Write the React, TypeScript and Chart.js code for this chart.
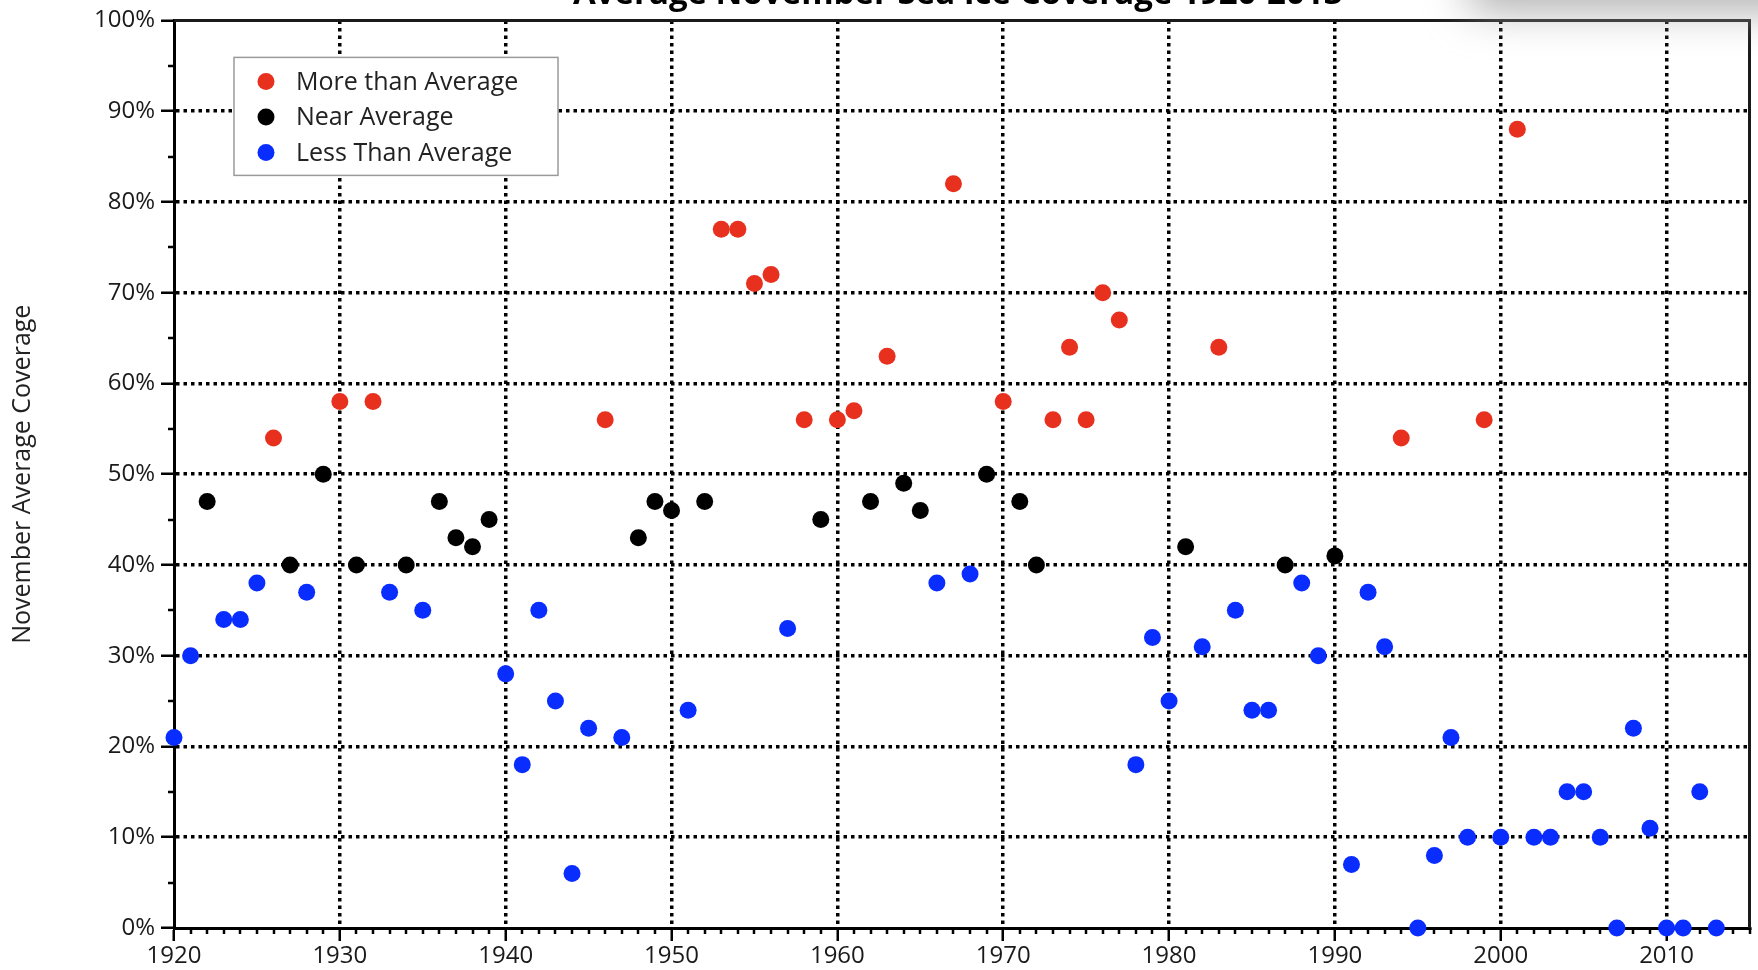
import React, { useEffect, useRef } from "react";
import { Chart, registerables } from "chart.js";

Chart.register(...registerables);

const chartTitle = "Average November Sea Ice Coverage 1920-2013";
const yAxisTitle = "November Average Coverage";

const moreLabel = "More than Average";
const nearLabel = "Near Average";
const lessLabel = "Less Than Average";

const moreYears = [1926, 1930, 1932, 1946, 1953, 1954, 1955, 1956, 1958, 1960, 1961, 1963, 1967, 1970, 1973, 1974, 1975, 1976, 1977, 1983, 1994, 1999, 2001];
const moreValues = [54, 58, 58, 56, 77, 77, 71, 72, 56, 56, 57, 63, 82, 58, 56, 64, 56, 70, 67, 64, 54, 56, 88];

const nearYears = [1922, 1927, 1929, 1931, 1934, 1936, 1937, 1938, 1939, 1948, 1949, 1950, 1952, 1959, 1962, 1964, 1965, 1969, 1971, 1972, 1981, 1987, 1990];
const nearValues = [47, 40, 50, 40, 40, 47, 43, 42, 45, 43, 47, 46, 47, 45, 47, 49, 46, 50, 47, 40, 42, 40, 41];

const lessYears = [1920, 1921, 1923, 1924, 1925, 1928, 1933, 1935, 1940, 1941, 1942, 1943, 1944, 1945, 1947, 1951, 1957, 1966, 1968, 1978, 1979, 1980, 1982, 1984, 1985, 1986, 1988, 1989, 1991, 1992, 1993, 1995, 1996, 1997, 1998, 2000, 2002, 2003, 2004, 2005, 2006, 2007, 2008, 2009, 2010, 2011, 2012, 2013];
const lessValues = [21, 30, 34, 34, 38, 37, 37, 35, 28, 18, 35, 25, 6, 22, 21, 24, 33, 38, 39, 18, 32, 25, 31, 35, 24, 24, 38, 30, 7, 37, 31, 0, 8, 21, 10, 10, 10, 10, 15, 15, 10, 0, 22, 11, 0, 0, 15, 0];

const xMin = 1920;
const xMax = 2015;
const xMajorStep = 10;
const xMinorStep = 1;
const yMin = 0;
const yMax = 100;
const yMajorStep = 10;
const yMinorStep = 5;

const FONT = '"Open Sans", "Liberation Sans", sans-serif';
const RED = "#E8301F";
const BLACK = "#000000";
const BLUE = "#0A2DFF";

export default function App() {
  const ref = useRef<HTMLCanvasElement>(null);

  useEffect(() => {
    const canvas = ref.current;
    if (!canvas) return;
    const toPts = (xs: number[], ys: number[]) => xs.map((x, i) => ({ x, y: ys[i] }));

    const decorPlugin = {
      id: "decor",
      beforeDatasetsDraw(chart: any) {
        const { ctx, chartArea: a, scales } = chart;
        const xs = scales.x;
        const ys = scales.y;
        ctx.save();
        // minor ticks
        ctx.strokeStyle = "#000";
        ctx.lineWidth = 2.5;
        ctx.beginPath();
        for (let v = xMin + xMinorStep; v <= xMax; v += xMinorStep) {
          if ((v - xMin) % xMajorStep === 0) continue;
          const px = Math.round(xs.getPixelForValue(v));
          ctx.moveTo(px, a.bottom);
          ctx.lineTo(px, a.bottom + 6);
        }
        for (let v = yMin + yMinorStep; v < yMax; v += yMajorStep) {
          const py = Math.round(ys.getPixelForValue(v));
          ctx.moveTo(a.left, py);
          ctx.lineTo(a.left - 6, py);
        }
        ctx.stroke();
        // top / right frame
        ctx.strokeStyle = "#1a1a1a";
        ctx.lineWidth = 3;
        ctx.beginPath();
        ctx.moveTo(a.left, a.top);
        ctx.lineTo(a.right, a.top);
        ctx.lineTo(a.right, a.bottom);
        ctx.stroke();
        // title (cut at top of page)
        ctx.fillStyle = "#000";
        ctx.font = `bold 33px ${FONT}`;
        ctx.textAlign = "center";
        ctx.textBaseline = "alphabetic";
        ctx.fillText(chartTitle, (a.left + a.right) / 2 - 4, a.top - 16);
        ctx.restore();
      },
      afterDatasetsDraw(chart: any) {
        const { ctx, chartArea: a } = chart;
        const lx = a.left + 60;
        const ly = a.top + 37;
        const lw = 324;
        const lh = 118;
        ctx.save();
        ctx.fillStyle = "#fff";
        ctx.fillRect(lx, ly, lw, lh);
        ctx.strokeStyle = "#9a9a9a";
        ctx.lineWidth = 1.5;
        ctx.strokeRect(lx, ly, lw, lh);
        ctx.font = `25px ${FONT}`;
        ctx.textAlign = "left";
        ctx.textBaseline = "middle";
        chart.data.datasets.forEach((ds: any, i: number) => {
          const cy = ly + 24 + i * 35.5;
          ctx.fillStyle = ds.backgroundColor;
          ctx.beginPath();
          ctx.arc(lx + 32, cy, 8.5, 0, Math.PI * 2);
          ctx.fill();
          ctx.fillStyle = "#222";
          ctx.fillText(ds.label, lx + 62, cy + 1);
        });
        ctx.restore();
      },
    };

    const gridColorX = (c: any) => (c.tick && c.tick.value === xMin ? "transparent" : "#000");
    const gridColorY = (c: any) =>
      c.tick && (c.tick.value === yMin || c.tick.value === yMax) ? "transparent" : "#000";

    const chart = new Chart(canvas, {
      type: "scatter",
      data: {
        datasets: [
          { label: moreLabel, data: toPts(moreYears, moreValues), backgroundColor: RED, borderWidth: 0, pointRadius: 8.5, clip: false as any },
          { label: nearLabel, data: toPts(nearYears, nearValues), backgroundColor: BLACK, borderWidth: 0, pointRadius: 8.5, clip: false as any },
          { label: lessLabel, data: toPts(lessYears, lessValues), backgroundColor: BLUE, borderWidth: 0, pointRadius: 8.5, clip: false as any },
        ],
      },
      options: {
        responsive: false,
        animation: false,
        devicePixelRatio: 1,
        layout: { padding: { top: 19, right: 4, left: 0, bottom: 0 } },
        plugins: { legend: { display: false }, tooltip: { enabled: false }, title: { display: false } },
        events: [],
        scales: {
          x: {
            type: "linear",
            min: xMin,
            max: xMax,
            afterFit: (s: any) => { s.height = 42; },
            ticks: {
              stepSize: xMajorStep,
              includeBounds: false,
              autoSkip: false,
              maxRotation: 0,
              padding: 1,
              color: "#1a1a1a",
              font: { family: FONT, size: 24 },
              callback: (v: any) => String(v),
            },
            grid: {
              color: gridColorX,
              lineWidth: 3.5,
              drawTicks: true,
              tickLength: 13,
              tickColor: "#000",
              tickWidth: 2.5,
            },
            border: { display: true, color: "#000", width: 3, dash: [3.5, 4] },
          },
          y: {
            type: "linear",
            min: yMin,
            max: yMax,
            afterFit: (s: any) => { s.width = 174; },
            ticks: {
              stepSize: yMajorStep,
              padding: 6,
              color: "#1a1a1a",
              font: { family: FONT, size: 24 },
              callback: (v: any) => `${v}%`,
            },
            grid: {
              color: gridColorY,
              lineWidth: 3.5,
              drawTicks: true,
              tickLength: 13,
              tickColor: "#000",
              tickWidth: 2.5,
            },
            border: { display: true, color: "#000", width: 3, dash: [3.5, 4] },
            title: {
              display: true,
              text: yAxisTitle,
              color: "#222",
              font: { family: FONT, size: 25 },
              padding: { top: 8, bottom: 0 },
            },
          },
        },
      },
      plugins: [decorPlugin],
    } as any);

    return () => chart.destroy();
  }, []);

  return (
    <div
      style={{
        position: "fixed",
        left: 0,
        top: 0,
        width: 1758,
        height: 970,
        overflow: "hidden",
        background: "#fff",
      }}
    >
      <canvas ref={ref} width={1758} height={970} style={{ width: 1758, height: 970, display: "block" }} />
      <div
        style={{
          position: "absolute",
          left: 1470,
          top: -36,
          width: 380,
          height: 44,
          background: "#a5a5a5",
          filter: "blur(22px)",
          pointerEvents: "none",
        }}
      />
    </div>
  );
}
